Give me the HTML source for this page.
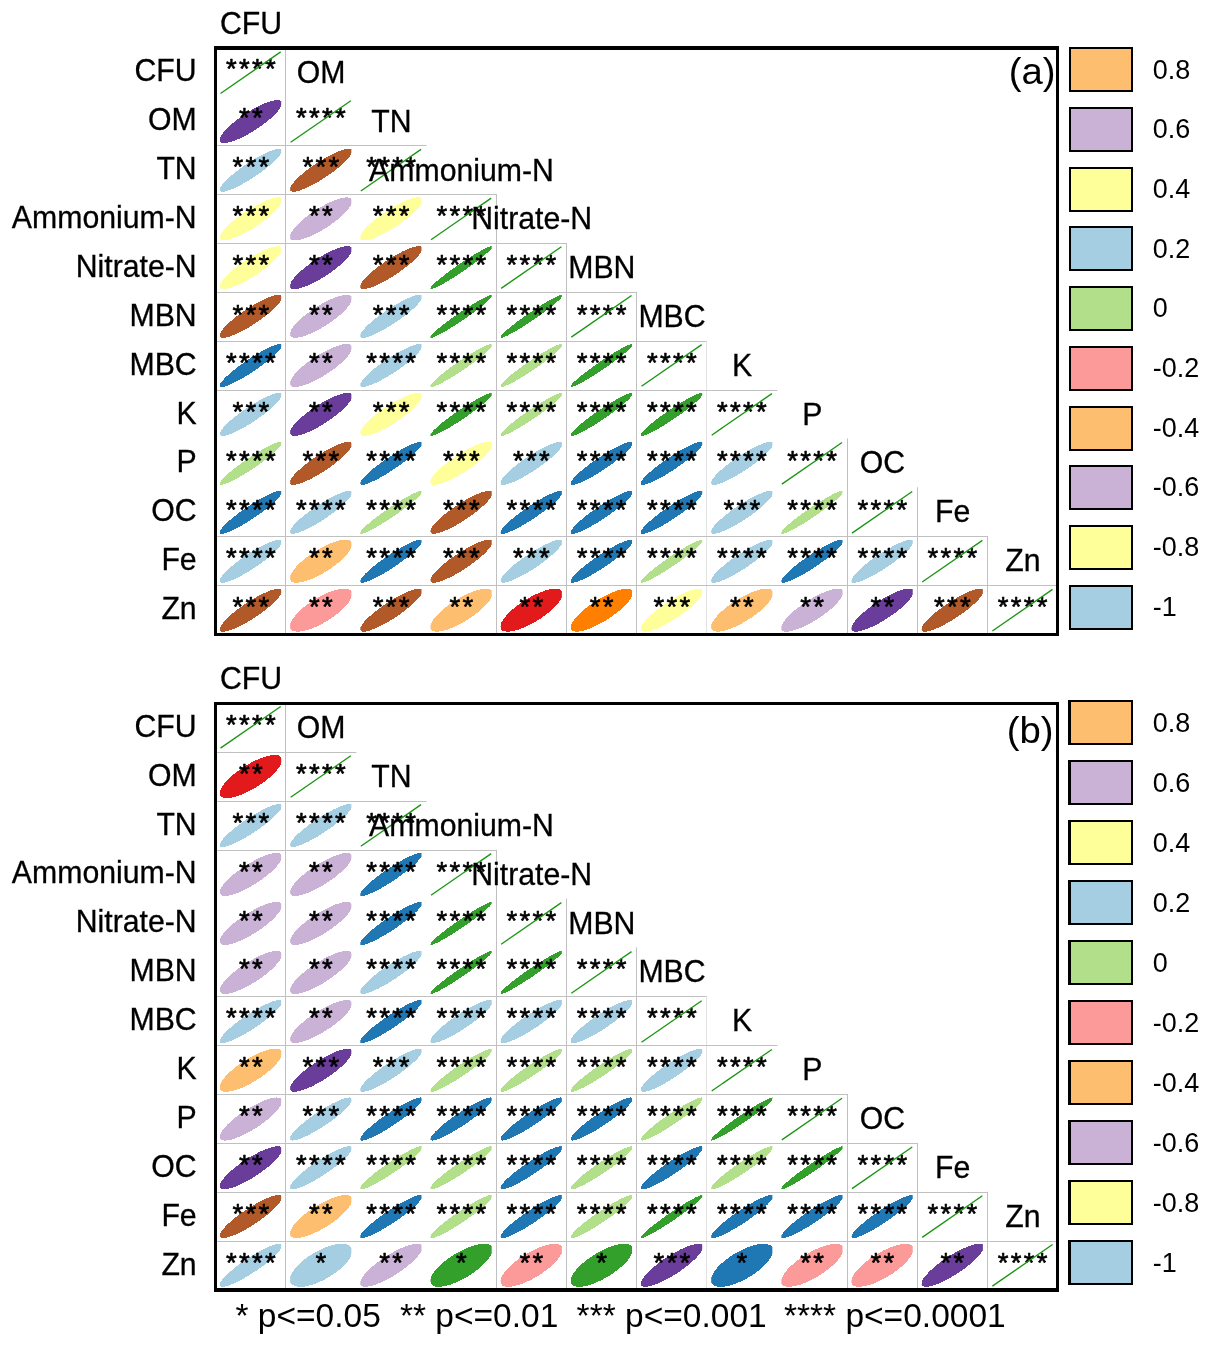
<!DOCTYPE html>
<html lang="en">
<head>
<meta charset="utf-8">
<title>Correlation ellipse plots</title>
<style>
html,body{margin:0;padding:0;background:#fff;}
body{width:1210px;height:1346px;overflow:hidden;}
svg{display:block;}
text{font-family:"Liberation Sans",Arial,Helvetica,sans-serif;fill:#000;}
text.s{font-size:27.5px;stroke:#000;stroke-width:0.6;stroke-linejoin:round;}
g.lab text{stroke:#000;stroke-width:0.3;}
</style>
</head>
<body>
<svg width="1210" height="1346" viewBox="0 0 1210 1346">
<rect width="1210" height="1346" fill="#fff"/>
<g>
<rect x="285" y="47.55" width="1" height="588.45" fill="#C0C0C0"/>
<rect x="216" y="145" width="210.51" height="1" fill="#C0C0C0"/>
<rect x="216" y="194" width="280.68" height="1" fill="#C0C0C0"/>
<rect x="496" y="194.12" width="1" height="441.88" fill="#C0C0C0"/>
<rect x="216" y="243" width="350.85" height="1" fill="#C0C0C0"/>
<rect x="566" y="242.98" width="1" height="393.02" fill="#C0C0C0"/>
<rect x="216" y="292" width="421.02" height="1" fill="#C0C0C0"/>
<rect x="636" y="291.83" width="1" height="344.17" fill="#C0C0C0"/>
<rect x="216" y="341" width="491.19" height="1" fill="#C0C0C0"/>
<rect x="706" y="340.69" width="1" height="295.31" fill="#E2E2E2"/>
<rect x="216" y="390" width="561.36" height="1" fill="#C0C0C0"/>
<rect x="847" y="438.41" width="1" height="197.59" fill="#C0C0C0"/>
<rect x="917" y="487.26" width="1" height="148.74" fill="#C0C0C0"/>
<rect x="216" y="536" width="771.87" height="1" fill="#C0C0C0"/>
<rect x="987" y="536.12" width="1" height="99.88" fill="#C0C0C0"/>
<rect x="216" y="585" width="842.04" height="1" fill="#C0C0C0"/>
<clipPath id="clip0">
<rect x="219.99" y="97.5" width="61.2" height="48"/>
<rect x="219.99" y="146.2" width="61.2" height="48"/>
<rect x="290.15" y="146.2" width="61.2" height="48"/>
<rect x="219.99" y="194.9" width="61.2" height="48"/>
<rect x="290.15" y="194.9" width="61.2" height="48"/>
<rect x="360.32" y="194.9" width="61.2" height="48"/>
<rect x="219.99" y="243.6" width="61.2" height="48"/>
<rect x="290.15" y="243.6" width="61.2" height="48"/>
<rect x="360.32" y="243.6" width="61.2" height="48"/>
<rect x="430.5" y="243.6" width="61.2" height="48"/>
<rect x="219.99" y="292.3" width="61.2" height="48"/>
<rect x="290.15" y="292.3" width="61.2" height="48"/>
<rect x="360.32" y="292.3" width="61.2" height="48"/>
<rect x="430.5" y="292.3" width="61.2" height="48"/>
<rect x="500.66" y="292.3" width="61.2" height="48"/>
<rect x="219.99" y="341.45" width="61.2" height="48"/>
<rect x="290.15" y="341.45" width="61.2" height="48"/>
<rect x="360.32" y="341.45" width="61.2" height="48"/>
<rect x="430.5" y="341.45" width="61.2" height="48"/>
<rect x="500.66" y="341.45" width="61.2" height="48"/>
<rect x="570.83" y="341.45" width="61.2" height="48"/>
<rect x="219.99" y="390.39" width="61.2" height="48"/>
<rect x="290.15" y="390.39" width="61.2" height="48"/>
<rect x="360.32" y="390.39" width="61.2" height="48"/>
<rect x="430.5" y="390.39" width="61.2" height="48"/>
<rect x="500.66" y="390.39" width="61.2" height="48"/>
<rect x="570.83" y="390.39" width="61.2" height="48"/>
<rect x="641" y="390.39" width="61.2" height="48"/>
<rect x="219.99" y="439.33" width="61.2" height="48"/>
<rect x="290.15" y="439.33" width="61.2" height="48"/>
<rect x="360.32" y="439.33" width="61.2" height="48"/>
<rect x="430.5" y="439.33" width="61.2" height="48"/>
<rect x="500.66" y="439.33" width="61.2" height="48"/>
<rect x="570.83" y="439.33" width="61.2" height="48"/>
<rect x="641" y="439.33" width="61.2" height="48"/>
<rect x="711.17" y="439.33" width="61.2" height="48"/>
<rect x="219.99" y="488.27" width="61.2" height="48"/>
<rect x="290.15" y="488.27" width="61.2" height="48"/>
<rect x="360.32" y="488.27" width="61.2" height="48"/>
<rect x="430.5" y="488.27" width="61.2" height="48"/>
<rect x="500.66" y="488.27" width="61.2" height="48"/>
<rect x="570.83" y="488.27" width="61.2" height="48"/>
<rect x="641" y="488.27" width="61.2" height="48"/>
<rect x="711.17" y="488.27" width="61.2" height="48"/>
<rect x="781.35" y="488.27" width="61.2" height="48"/>
<rect x="219.99" y="537.21" width="61.2" height="48"/>
<rect x="290.15" y="537.21" width="61.2" height="48"/>
<rect x="360.32" y="537.21" width="61.2" height="48"/>
<rect x="430.5" y="537.21" width="61.2" height="48"/>
<rect x="500.66" y="537.21" width="61.2" height="48"/>
<rect x="570.83" y="537.21" width="61.2" height="48"/>
<rect x="641" y="537.21" width="61.2" height="48"/>
<rect x="711.17" y="537.21" width="61.2" height="48"/>
<rect x="781.35" y="537.21" width="61.2" height="48"/>
<rect x="851.51" y="537.21" width="61.2" height="48"/>
<rect x="219.99" y="586.15" width="61.2" height="48"/>
<rect x="290.15" y="586.15" width="61.2" height="48"/>
<rect x="360.32" y="586.15" width="61.2" height="48"/>
<rect x="430.5" y="586.15" width="61.2" height="48"/>
<rect x="500.66" y="586.15" width="61.2" height="48"/>
<rect x="570.83" y="586.15" width="61.2" height="48"/>
<rect x="641" y="586.15" width="61.2" height="48"/>
<rect x="711.17" y="586.15" width="61.2" height="48"/>
<rect x="781.35" y="586.15" width="61.2" height="48"/>
<rect x="851.51" y="586.15" width="61.2" height="48"/>
<rect x="921.68" y="586.15" width="61.2" height="48"/>
</clipPath>
<g shape-rendering="crispEdges" clip-path="url(#clip0)">
<ellipse transform="translate(250.89 121.5) scale(31.2 21.55) rotate(-45)" rx="1.3620" ry="0.3808" fill="#6A3D9A"/>
<ellipse transform="translate(250.89 170.2) scale(31.2 21.55) rotate(-45)" rx="1.3820" ry="0.3000" fill="#A6CEE3"/>
<ellipse transform="translate(321.06 170.2) scale(31.2 21.55) rotate(-45)" rx="1.3748" ry="0.3317" fill="#B15928"/>
<ellipse transform="translate(250.89 218.9) scale(31.2 21.55) rotate(-45)" rx="1.3675" ry="0.3606" fill="#FFFF99"/>
<ellipse transform="translate(321.06 218.9) scale(31.2 21.55) rotate(-45)" rx="1.3528" ry="0.4123" fill="#CAB2D6"/>
<ellipse transform="translate(391.23 218.9) scale(31.2 21.55) rotate(-45)" rx="1.3675" ry="0.3606" fill="#FFFF99"/>
<ellipse transform="translate(250.89 267.6) scale(31.2 21.55) rotate(-45)" rx="1.3675" ry="0.3606" fill="#FFFF99"/>
<ellipse transform="translate(321.06 267.6) scale(31.2 21.55) rotate(-45)" rx="1.3620" ry="0.3808" fill="#6A3D9A"/>
<ellipse transform="translate(391.23 267.6) scale(31.2 21.55) rotate(-45)" rx="1.3748" ry="0.3317" fill="#B15928"/>
<ellipse transform="translate(461.4 267.6) scale(31.2 21.55) rotate(-45)" rx="1.4053" ry="0.1581" fill="#33A02C"/>
<ellipse transform="translate(250.89 316.3) scale(31.2 21.55) rotate(-45)" rx="1.3748" ry="0.3317" fill="#B15928"/>
<ellipse transform="translate(321.06 316.3) scale(31.2 21.55) rotate(-45)" rx="1.3528" ry="0.4123" fill="#CAB2D6"/>
<ellipse transform="translate(391.23 316.3) scale(31.2 21.55) rotate(-45)" rx="1.3820" ry="0.3000" fill="#A6CEE3"/>
<ellipse transform="translate(461.4 316.3) scale(31.2 21.55) rotate(-45)" rx="1.4053" ry="0.1581" fill="#33A02C"/>
<ellipse transform="translate(531.56 316.3) scale(31.2 21.55) rotate(-45)" rx="1.4053" ry="0.1581" fill="#33A02C"/>
<ellipse transform="translate(250.89 365.45) scale(31.2 21.55) rotate(-45)" rx="1.3910" ry="0.2550" fill="#1F78B4"/>
<ellipse transform="translate(321.06 365.45) scale(31.2 21.55) rotate(-45)" rx="1.3528" ry="0.4123" fill="#CAB2D6"/>
<ellipse transform="translate(391.23 365.45) scale(31.2 21.55) rotate(-45)" rx="1.3820" ry="0.3000" fill="#A6CEE3"/>
<ellipse transform="translate(461.4 365.45) scale(31.2 21.55) rotate(-45)" rx="1.4018" ry="0.1871" fill="#B2DF8A"/>
<ellipse transform="translate(531.56 365.45) scale(31.2 21.55) rotate(-45)" rx="1.4018" ry="0.1871" fill="#B2DF8A"/>
<ellipse transform="translate(601.73 365.45) scale(31.2 21.55) rotate(-45)" rx="1.4053" ry="0.1581" fill="#33A02C"/>
<ellipse transform="translate(250.89 414.39) scale(31.2 21.55) rotate(-45)" rx="1.3820" ry="0.3000" fill="#A6CEE3"/>
<ellipse transform="translate(321.06 414.39) scale(31.2 21.55) rotate(-45)" rx="1.3620" ry="0.3808" fill="#6A3D9A"/>
<ellipse transform="translate(391.23 414.39) scale(31.2 21.55) rotate(-45)" rx="1.3675" ry="0.3606" fill="#FFFF99"/>
<ellipse transform="translate(461.4 414.39) scale(31.2 21.55) rotate(-45)" rx="1.4018" ry="0.1871" fill="#33A02C"/>
<ellipse transform="translate(531.56 414.39) scale(31.2 21.55) rotate(-45)" rx="1.4018" ry="0.1871" fill="#B2DF8A"/>
<ellipse transform="translate(601.73 414.39) scale(31.2 21.55) rotate(-45)" rx="1.4007" ry="0.1949" fill="#33A02C"/>
<ellipse transform="translate(671.9 414.39) scale(31.2 21.55) rotate(-45)" rx="1.4007" ry="0.1949" fill="#33A02C"/>
<ellipse transform="translate(250.89 463.33) scale(31.2 21.55) rotate(-45)" rx="1.3964" ry="0.2236" fill="#B2DF8A"/>
<ellipse transform="translate(321.06 463.33) scale(31.2 21.55) rotate(-45)" rx="1.3748" ry="0.3317" fill="#B15928"/>
<ellipse transform="translate(391.23 463.33) scale(31.2 21.55) rotate(-45)" rx="1.3910" ry="0.2550" fill="#1F78B4"/>
<ellipse transform="translate(461.4 463.33) scale(31.2 21.55) rotate(-45)" rx="1.3675" ry="0.3606" fill="#FFFF99"/>
<ellipse transform="translate(531.56 463.33) scale(31.2 21.55) rotate(-45)" rx="1.3820" ry="0.3000" fill="#A6CEE3"/>
<ellipse transform="translate(601.73 463.33) scale(31.2 21.55) rotate(-45)" rx="1.3910" ry="0.2550" fill="#1F78B4"/>
<ellipse transform="translate(671.9 463.33) scale(31.2 21.55) rotate(-45)" rx="1.3910" ry="0.2550" fill="#1F78B4"/>
<ellipse transform="translate(742.07 463.33) scale(31.2 21.55) rotate(-45)" rx="1.3820" ry="0.3000" fill="#A6CEE3"/>
<ellipse transform="translate(250.89 512.27) scale(31.2 21.55) rotate(-45)" rx="1.3910" ry="0.2550" fill="#1F78B4"/>
<ellipse transform="translate(321.06 512.27) scale(31.2 21.55) rotate(-45)" rx="1.3820" ry="0.3000" fill="#A6CEE3"/>
<ellipse transform="translate(391.23 512.27) scale(31.2 21.55) rotate(-45)" rx="1.4018" ry="0.1871" fill="#B2DF8A"/>
<ellipse transform="translate(461.4 512.27) scale(31.2 21.55) rotate(-45)" rx="1.3748" ry="0.3317" fill="#B15928"/>
<ellipse transform="translate(531.56 512.27) scale(31.2 21.55) rotate(-45)" rx="1.3910" ry="0.2550" fill="#1F78B4"/>
<ellipse transform="translate(601.73 512.27) scale(31.2 21.55) rotate(-45)" rx="1.3910" ry="0.2550" fill="#1F78B4"/>
<ellipse transform="translate(671.9 512.27) scale(31.2 21.55) rotate(-45)" rx="1.3910" ry="0.2550" fill="#1F78B4"/>
<ellipse transform="translate(742.07 512.27) scale(31.2 21.55) rotate(-45)" rx="1.3820" ry="0.3000" fill="#A6CEE3"/>
<ellipse transform="translate(812.25 512.27) scale(31.2 21.55) rotate(-45)" rx="1.4018" ry="0.1871" fill="#B2DF8A"/>
<ellipse transform="translate(250.89 561.21) scale(31.2 21.55) rotate(-45)" rx="1.3820" ry="0.3000" fill="#A6CEE3"/>
<ellipse transform="translate(321.06 561.21) scale(31.2 21.55) rotate(-45)" rx="1.3379" ry="0.4583" fill="#FDBF6F"/>
<ellipse transform="translate(391.23 561.21) scale(31.2 21.55) rotate(-45)" rx="1.3910" ry="0.2550" fill="#1F78B4"/>
<ellipse transform="translate(461.4 561.21) scale(31.2 21.55) rotate(-45)" rx="1.3748" ry="0.3317" fill="#B15928"/>
<ellipse transform="translate(531.56 561.21) scale(31.2 21.55) rotate(-45)" rx="1.3820" ry="0.3000" fill="#A6CEE3"/>
<ellipse transform="translate(601.73 561.21) scale(31.2 21.55) rotate(-45)" rx="1.3910" ry="0.2550" fill="#1F78B4"/>
<ellipse transform="translate(671.9 561.21) scale(31.2 21.55) rotate(-45)" rx="1.4018" ry="0.1871" fill="#B2DF8A"/>
<ellipse transform="translate(742.07 561.21) scale(31.2 21.55) rotate(-45)" rx="1.3820" ry="0.3000" fill="#A6CEE3"/>
<ellipse transform="translate(812.25 561.21) scale(31.2 21.55) rotate(-45)" rx="1.3910" ry="0.2550" fill="#1F78B4"/>
<ellipse transform="translate(882.41 561.21) scale(31.2 21.55) rotate(-45)" rx="1.3820" ry="0.3000" fill="#A6CEE3"/>
<ellipse transform="translate(250.89 610.15) scale(31.2 21.55) rotate(-45)" rx="1.3748" ry="0.3317" fill="#B15928"/>
<ellipse transform="translate(321.06 610.15) scale(31.2 21.55) rotate(-45)" rx="1.3229" ry="0.5000" fill="#FB9A99"/>
<ellipse transform="translate(391.23 610.15) scale(31.2 21.55) rotate(-45)" rx="1.3748" ry="0.3317" fill="#B15928"/>
<ellipse transform="translate(461.4 610.15) scale(31.2 21.55) rotate(-45)" rx="1.3379" ry="0.4583" fill="#FDBF6F"/>
<ellipse transform="translate(531.56 610.15) scale(31.2 21.55) rotate(-45)" rx="1.3304" ry="0.4796" fill="#E31A1C"/>
<ellipse transform="translate(601.73 610.15) scale(31.2 21.55) rotate(-45)" rx="1.3454" ry="0.4359" fill="#FF7F00"/>
<ellipse transform="translate(671.9 610.15) scale(31.2 21.55) rotate(-45)" rx="1.3675" ry="0.3606" fill="#FFFF99"/>
<ellipse transform="translate(742.07 610.15) scale(31.2 21.55) rotate(-45)" rx="1.3379" ry="0.4583" fill="#FDBF6F"/>
<ellipse transform="translate(812.25 610.15) scale(31.2 21.55) rotate(-45)" rx="1.3528" ry="0.4123" fill="#CAB2D6"/>
<ellipse transform="translate(882.41 610.15) scale(31.2 21.55) rotate(-45)" rx="1.3620" ry="0.3808" fill="#6A3D9A"/>
<ellipse transform="translate(952.58 610.15) scale(31.2 21.55) rotate(-45)" rx="1.3748" ry="0.3317" fill="#B15928"/>
</g>
<text class="s" x="225.88 238.88 251.88 264.88" y="78.19">****</text>
<text class="s" x="238.88 251.88" y="127.25">**</text>
<text class="s" x="296.05 309.05 322.05 335.05" y="127.25">****</text>
<text class="s" x="232.38 245.38 258.38" y="176.31">***</text>
<text class="s" x="302.55 315.55 328.55" y="176.31">***</text>
<text class="s" x="366.22 379.22 392.22 405.22" y="176.31">****</text>
<text class="s" x="232.38 245.38 258.38" y="225.38">***</text>
<text class="s" x="309.05 322.05" y="225.38">**</text>
<text class="s" x="372.72 385.72 398.72" y="225.38">***</text>
<text class="s" x="436.39 449.39 462.39 475.39" y="225.38">****</text>
<text class="s" x="232.38 245.38 258.38" y="274.44">***</text>
<text class="s" x="309.05 322.05" y="274.44">**</text>
<text class="s" x="372.72 385.72 398.72" y="274.44">***</text>
<text class="s" x="436.39 449.39 462.39 475.39" y="274.44">****</text>
<text class="s" x="506.56 519.56 532.56 545.56" y="274.44">****</text>
<text class="s" x="232.38 245.38 258.38" y="323.5">***</text>
<text class="s" x="309.05 322.05" y="323.5">**</text>
<text class="s" x="372.72 385.72 398.72" y="323.5">***</text>
<text class="s" x="436.39 449.39 462.39 475.39" y="323.5">****</text>
<text class="s" x="506.56 519.56 532.56 545.56" y="323.5">****</text>
<text class="s" x="576.73 589.73 602.73 615.73" y="323.5">****</text>
<text class="s" x="225.88 238.88 251.88 264.88" y="372.3">****</text>
<text class="s" x="309.05 322.05" y="372.3">**</text>
<text class="s" x="366.22 379.22 392.22 405.22" y="372.3">****</text>
<text class="s" x="436.39 449.39 462.39 475.39" y="372.3">****</text>
<text class="s" x="506.56 519.56 532.56 545.56" y="372.3">****</text>
<text class="s" x="576.73 589.73 602.73 615.73" y="372.3">****</text>
<text class="s" x="646.9 659.9 672.9 685.9" y="372.3">****</text>
<text class="s" x="232.38 245.38 258.38" y="421.08">***</text>
<text class="s" x="309.05 322.05" y="421.08">**</text>
<text class="s" x="372.72 385.72 398.72" y="421.08">***</text>
<text class="s" x="436.39 449.39 462.39 475.39" y="421.08">****</text>
<text class="s" x="506.56 519.56 532.56 545.56" y="421.08">****</text>
<text class="s" x="576.73 589.73 602.73 615.73" y="421.08">****</text>
<text class="s" x="646.9 659.9 672.9 685.9" y="421.08">****</text>
<text class="s" x="717.07 730.07 743.07 756.07" y="421.08">****</text>
<text class="s" x="225.88 238.88 251.88 264.88" y="469.86">****</text>
<text class="s" x="302.55 315.55 328.55" y="469.86">***</text>
<text class="s" x="366.22 379.22 392.22 405.22" y="469.86">****</text>
<text class="s" x="442.89 455.89 468.89" y="469.86">***</text>
<text class="s" x="513.06 526.06 539.06" y="469.86">***</text>
<text class="s" x="576.73 589.73 602.73 615.73" y="469.86">****</text>
<text class="s" x="646.9 659.9 672.9 685.9" y="469.86">****</text>
<text class="s" x="717.07 730.07 743.07 756.07" y="469.86">****</text>
<text class="s" x="787.24 800.24 813.24 826.24" y="469.86">****</text>
<text class="s" x="225.88 238.88 251.88 264.88" y="518.64">****</text>
<text class="s" x="296.05 309.05 322.05 335.05" y="518.64">****</text>
<text class="s" x="366.22 379.22 392.22 405.22" y="518.64">****</text>
<text class="s" x="442.89 455.89 468.89" y="518.64">***</text>
<text class="s" x="506.56 519.56 532.56 545.56" y="518.64">****</text>
<text class="s" x="576.73 589.73 602.73 615.73" y="518.64">****</text>
<text class="s" x="646.9 659.9 672.9 685.9" y="518.64">****</text>
<text class="s" x="723.57 736.57 749.57" y="518.64">***</text>
<text class="s" x="787.24 800.24 813.24 826.24" y="518.64">****</text>
<text class="s" x="857.41 870.41 883.41 896.41" y="518.64">****</text>
<text class="s" x="225.88 238.88 251.88 264.88" y="567.42">****</text>
<text class="s" x="309.05 322.05" y="567.42">**</text>
<text class="s" x="366.22 379.22 392.22 405.22" y="567.42">****</text>
<text class="s" x="442.89 455.89 468.89" y="567.42">***</text>
<text class="s" x="513.06 526.06 539.06" y="567.42">***</text>
<text class="s" x="576.73 589.73 602.73 615.73" y="567.42">****</text>
<text class="s" x="646.9 659.9 672.9 685.9" y="567.42">****</text>
<text class="s" x="717.07 730.07 743.07 756.07" y="567.42">****</text>
<text class="s" x="787.24 800.24 813.24 826.24" y="567.42">****</text>
<text class="s" x="857.41 870.41 883.41 896.41" y="567.42">****</text>
<text class="s" x="927.58 940.58 953.58 966.58" y="567.42">****</text>
<text class="s" x="232.38 245.38 258.38" y="616.2">***</text>
<text class="s" x="309.05 322.05" y="616.2">**</text>
<text class="s" x="372.72 385.72 398.72" y="616.2">***</text>
<text class="s" x="449.39 462.39" y="616.2">**</text>
<text class="s" x="519.56 532.56" y="616.2">**</text>
<text class="s" x="589.73 602.73" y="616.2">**</text>
<text class="s" x="653.4 666.4 679.4" y="616.2">***</text>
<text class="s" x="730.07 743.07" y="616.2">**</text>
<text class="s" x="800.24 813.24" y="616.2">**</text>
<text class="s" x="870.41 883.41" y="616.2">**</text>
<text class="s" x="934.08 947.08 960.08" y="616.2">***</text>
<text class="s" x="997.75 1010.75 1023.75 1036.75" y="616.2">****</text>
<line x1="220.49" y1="93.45" x2="280.69" y2="51.85" stroke="#1A9612" stroke-width="1.35"/>
<line x1="290.65" y1="142.3" x2="350.86" y2="100.7" stroke="#1A9612" stroke-width="1.35"/>
<line x1="360.82" y1="191" x2="421.03" y2="149.4" stroke="#1A9612" stroke-width="1.35"/>
<line x1="431" y1="239.7" x2="491.2" y2="198.1" stroke="#1A9612" stroke-width="1.35"/>
<line x1="501.16" y1="288.4" x2="561.37" y2="246.8" stroke="#1A9612" stroke-width="1.35"/>
<line x1="571.33" y1="337.1" x2="631.53" y2="295.5" stroke="#1A9612" stroke-width="1.35"/>
<line x1="641.5" y1="386.25" x2="701.71" y2="344.65" stroke="#1A9612" stroke-width="1.35"/>
<line x1="711.67" y1="435.19" x2="771.88" y2="393.59" stroke="#1A9612" stroke-width="1.35"/>
<line x1="781.85" y1="484.13" x2="842.05" y2="442.53" stroke="#1A9612" stroke-width="1.35"/>
<line x1="852.01" y1="533.07" x2="912.22" y2="491.47" stroke="#1A9612" stroke-width="1.35"/>
<line x1="922.18" y1="582.01" x2="982.38" y2="540.41" stroke="#1A9612" stroke-width="1.35"/>
<line x1="992.36" y1="630.95" x2="1052.56" y2="589.35" stroke="#1A9612" stroke-width="1.35"/>
<g class="lab">
<text transform="translate(196.7 81.1) scale(0.97 1)" font-size="31.2" text-anchor="end">CFU</text>
<text transform="translate(250.99 34.36) scale(0.97 1)" font-size="31.2" text-anchor="middle">CFU</text>
<text transform="translate(196.7 130) scale(0.97 1)" font-size="31.2" text-anchor="end">OM</text>
<text transform="translate(321.15 83.13) scale(0.97 1)" font-size="31.2" text-anchor="middle">OM</text>
<text transform="translate(196.7 178.9) scale(0.97 1)" font-size="31.2" text-anchor="end">TN</text>
<text transform="translate(391.32 131.9) scale(0.97 1)" font-size="31.2" text-anchor="middle">TN</text>
<text transform="translate(196.7 227.93) scale(0.97 1)" font-size="31.2" text-anchor="end">Ammonium-N</text>
<text transform="translate(461.5 180.68) scale(0.97 1)" font-size="31.2" text-anchor="middle">Ammonium-N</text>
<text transform="translate(196.7 276.97) scale(0.97 1)" font-size="31.2" text-anchor="end">Nitrate-N</text>
<text transform="translate(531.66 229.45) scale(0.97 1)" font-size="31.2" text-anchor="middle">Nitrate-N</text>
<text transform="translate(196.7 326) scale(0.97 1)" font-size="31.2" text-anchor="end">MBN</text>
<text transform="translate(601.83 278.22) scale(0.97 1)" font-size="31.2" text-anchor="middle">MBN</text>
<text transform="translate(196.7 374.82) scale(0.97 1)" font-size="31.2" text-anchor="end">MBC</text>
<text transform="translate(672 326.99) scale(0.97 1)" font-size="31.2" text-anchor="middle">MBC</text>
<text transform="translate(196.7 423.63) scale(0.97 1)" font-size="31.2" text-anchor="end">K</text>
<text transform="translate(742.17 375.76) scale(0.97 1)" font-size="31.2" text-anchor="middle">K</text>
<text transform="translate(196.7 472.45) scale(0.97 1)" font-size="31.2" text-anchor="end">P</text>
<text transform="translate(812.35 424.53) scale(0.97 1)" font-size="31.2" text-anchor="middle">P</text>
<text transform="translate(196.7 521.27) scale(0.97 1)" font-size="31.2" text-anchor="end">OC</text>
<text transform="translate(882.51 473.31) scale(0.97 1)" font-size="31.2" text-anchor="middle">OC</text>
<text transform="translate(196.7 570.08) scale(0.97 1)" font-size="31.2" text-anchor="end">Fe</text>
<text transform="translate(952.68 522.08) scale(0.97 1)" font-size="31.2" text-anchor="middle">Fe</text>
<text transform="translate(196.7 618.9) scale(0.97 1)" font-size="31.2" text-anchor="end">Zn</text>
<text transform="translate(1022.86 570.85) scale(0.97 1)" font-size="31.2" text-anchor="middle">Zn</text>
</g>
<path fill="#000" fill-rule="evenodd" d="M214 46 H1059 V636 H214 Z M217 50 V633 H1056 V50 Z"/>
<text transform="translate(1055.5 84.35) scale(1.05 1)" font-size="36.5" text-anchor="end">(a)</text>
</g>
<g>
<rect x="1069" y="47" width="64" height="45" fill="#000"/>
<rect x="1071" y="49" width="60" height="41" fill="#FDBF6F"/>
<text transform="translate(1152.85 78.7) scale(0.95 1)" font-size="28.4">0.8</text>
<rect x="1069" y="107" width="64" height="45" fill="#000"/>
<rect x="1071" y="109" width="60" height="41" fill="#CAB2D6"/>
<text transform="translate(1152.85 138.36) scale(0.95 1)" font-size="28.4">0.6</text>
<rect x="1069" y="167" width="64" height="45" fill="#000"/>
<rect x="1071" y="169" width="60" height="41" fill="#FFFF99"/>
<text transform="translate(1152.85 198.02) scale(0.95 1)" font-size="28.4">0.4</text>
<rect x="1069" y="226" width="64" height="45" fill="#000"/>
<rect x="1071" y="228" width="60" height="41" fill="#A6CEE3"/>
<text transform="translate(1152.85 257.68) scale(0.95 1)" font-size="28.4">0.2</text>
<rect x="1069" y="286" width="64" height="45" fill="#000"/>
<rect x="1071" y="288" width="60" height="41" fill="#B2DF8A"/>
<text transform="translate(1152.85 317.34) scale(0.95 1)" font-size="28.4">0</text>
<rect x="1069" y="346" width="64" height="45" fill="#000"/>
<rect x="1071" y="348" width="60" height="41" fill="#FB9A99"/>
<text transform="translate(1152.85 377) scale(0.95 1)" font-size="28.4">-0.2</text>
<rect x="1069" y="406" width="64" height="45" fill="#000"/>
<rect x="1071" y="408" width="60" height="41" fill="#FDBF6F"/>
<text transform="translate(1152.85 436.66) scale(0.95 1)" font-size="28.4">-0.4</text>
<rect x="1069" y="465" width="64" height="45" fill="#000"/>
<rect x="1071" y="467" width="60" height="41" fill="#CAB2D6"/>
<text transform="translate(1152.85 496.32) scale(0.95 1)" font-size="28.4">-0.6</text>
<rect x="1069" y="525" width="64" height="45" fill="#000"/>
<rect x="1071" y="527" width="60" height="41" fill="#FFFF99"/>
<text transform="translate(1152.85 555.98) scale(0.95 1)" font-size="28.4">-0.8</text>
<rect x="1069" y="585" width="64" height="45" fill="#000"/>
<rect x="1071" y="587" width="60" height="41" fill="#A6CEE3"/>
<text transform="translate(1152.85 615.64) scale(0.95 1)" font-size="28.4">-1</text>
</g>
<g>
<rect x="285" y="703.15" width="1" height="588.85" fill="#C0C0C0"/>
<rect x="216" y="752" width="140.34" height="1" fill="#C0C0C0"/>
<rect x="216" y="801" width="210.51" height="1" fill="#C0C0C0"/>
<rect x="216" y="850" width="280.68" height="1" fill="#C0C0C0"/>
<rect x="496" y="849.72" width="1" height="442.28" fill="#C0C0C0"/>
<rect x="566" y="898.58" width="1" height="393.42" fill="#C0C0C0"/>
<rect x="636" y="947.43" width="1" height="344.57" fill="#C0C0C0"/>
<rect x="216" y="996" width="491.19" height="1" fill="#C0C0C0"/>
<rect x="706" y="996.29" width="1" height="295.71" fill="#E2E2E2"/>
<rect x="216" y="1045" width="561.36" height="1" fill="#C0C0C0"/>
<rect x="216" y="1094" width="631.53" height="1" fill="#C0C0C0"/>
<rect x="847" y="1094.01" width="1" height="197.99" fill="#C0C0C0"/>
<rect x="216" y="1143" width="701.7" height="1" fill="#C0C0C0"/>
<rect x="917" y="1142.86" width="1" height="149.14" fill="#C0C0C0"/>
<rect x="216" y="1192" width="771.87" height="1" fill="#C0C0C0"/>
<rect x="987" y="1191.72" width="1" height="100.28" fill="#C0C0C0"/>
<rect x="216" y="1241" width="842.04" height="1" fill="#C0C0C0"/>
<clipPath id="clip1">
<rect x="219.99" y="752.5" width="61.2" height="48"/>
<rect x="219.99" y="801.48" width="61.2" height="48"/>
<rect x="290.15" y="801.48" width="61.2" height="48"/>
<rect x="219.99" y="850.45" width="61.2" height="48"/>
<rect x="290.15" y="850.45" width="61.2" height="48"/>
<rect x="360.32" y="850.45" width="61.2" height="48"/>
<rect x="219.99" y="899.42" width="61.2" height="48"/>
<rect x="290.15" y="899.42" width="61.2" height="48"/>
<rect x="360.32" y="899.42" width="61.2" height="48"/>
<rect x="430.5" y="899.42" width="61.2" height="48"/>
<rect x="219.99" y="948.4" width="61.2" height="48"/>
<rect x="290.15" y="948.4" width="61.2" height="48"/>
<rect x="360.32" y="948.4" width="61.2" height="48"/>
<rect x="430.5" y="948.4" width="61.2" height="48"/>
<rect x="500.66" y="948.4" width="61.2" height="48"/>
<rect x="219.99" y="997.5" width="61.2" height="48"/>
<rect x="290.15" y="997.5" width="61.2" height="48"/>
<rect x="360.32" y="997.5" width="61.2" height="48"/>
<rect x="430.5" y="997.5" width="61.2" height="48"/>
<rect x="500.66" y="997.5" width="61.2" height="48"/>
<rect x="570.83" y="997.5" width="61.2" height="48"/>
<rect x="219.99" y="1046.26" width="61.2" height="48"/>
<rect x="290.15" y="1046.26" width="61.2" height="48"/>
<rect x="360.32" y="1046.26" width="61.2" height="48"/>
<rect x="430.5" y="1046.26" width="61.2" height="48"/>
<rect x="500.66" y="1046.26" width="61.2" height="48"/>
<rect x="570.83" y="1046.26" width="61.2" height="48"/>
<rect x="641" y="1046.26" width="61.2" height="48"/>
<rect x="219.99" y="1095.02" width="61.2" height="48"/>
<rect x="290.15" y="1095.02" width="61.2" height="48"/>
<rect x="360.32" y="1095.02" width="61.2" height="48"/>
<rect x="430.5" y="1095.02" width="61.2" height="48"/>
<rect x="500.66" y="1095.02" width="61.2" height="48"/>
<rect x="570.83" y="1095.02" width="61.2" height="48"/>
<rect x="641" y="1095.02" width="61.2" height="48"/>
<rect x="711.17" y="1095.02" width="61.2" height="48"/>
<rect x="219.99" y="1143.78" width="61.2" height="48"/>
<rect x="290.15" y="1143.78" width="61.2" height="48"/>
<rect x="360.32" y="1143.78" width="61.2" height="48"/>
<rect x="430.5" y="1143.78" width="61.2" height="48"/>
<rect x="500.66" y="1143.78" width="61.2" height="48"/>
<rect x="570.83" y="1143.78" width="61.2" height="48"/>
<rect x="641" y="1143.78" width="61.2" height="48"/>
<rect x="711.17" y="1143.78" width="61.2" height="48"/>
<rect x="781.35" y="1143.78" width="61.2" height="48"/>
<rect x="219.99" y="1192.54" width="61.2" height="48"/>
<rect x="290.15" y="1192.54" width="61.2" height="48"/>
<rect x="360.32" y="1192.54" width="61.2" height="48"/>
<rect x="430.5" y="1192.54" width="61.2" height="48"/>
<rect x="500.66" y="1192.54" width="61.2" height="48"/>
<rect x="570.83" y="1192.54" width="61.2" height="48"/>
<rect x="641" y="1192.54" width="61.2" height="48"/>
<rect x="711.17" y="1192.54" width="61.2" height="48"/>
<rect x="781.35" y="1192.54" width="61.2" height="48"/>
<rect x="851.51" y="1192.54" width="61.2" height="48"/>
<rect x="219.99" y="1241.3" width="61.2" height="48"/>
<rect x="290.15" y="1241.3" width="61.2" height="48"/>
<rect x="360.32" y="1241.3" width="61.2" height="48"/>
<rect x="430.5" y="1241.3" width="61.2" height="48"/>
<rect x="500.66" y="1241.3" width="61.2" height="48"/>
<rect x="570.83" y="1241.3" width="61.2" height="48"/>
<rect x="641" y="1241.3" width="61.2" height="48"/>
<rect x="711.17" y="1241.3" width="61.2" height="48"/>
<rect x="781.35" y="1241.3" width="61.2" height="48"/>
<rect x="851.51" y="1241.3" width="61.2" height="48"/>
<rect x="921.68" y="1241.3" width="61.2" height="48"/>
</clipPath>
<g shape-rendering="crispEdges" clip-path="url(#clip1)">
<ellipse transform="translate(250.89 776.5) scale(31.2 21.55) rotate(-45)" rx="1.3304" ry="0.4796" fill="#E31A1C"/>
<ellipse transform="translate(250.89 825.48) scale(31.2 21.55) rotate(-45)" rx="1.3820" ry="0.3000" fill="#A6CEE3"/>
<ellipse transform="translate(321.06 825.48) scale(31.2 21.55) rotate(-45)" rx="1.3820" ry="0.3000" fill="#A6CEE3"/>
<ellipse transform="translate(250.89 874.45) scale(31.2 21.55) rotate(-45)" rx="1.3528" ry="0.4123" fill="#CAB2D6"/>
<ellipse transform="translate(321.06 874.45) scale(31.2 21.55) rotate(-45)" rx="1.3528" ry="0.4123" fill="#CAB2D6"/>
<ellipse transform="translate(391.23 874.45) scale(31.2 21.55) rotate(-45)" rx="1.3910" ry="0.2550" fill="#1F78B4"/>
<ellipse transform="translate(250.89 923.42) scale(31.2 21.55) rotate(-45)" rx="1.3528" ry="0.4123" fill="#CAB2D6"/>
<ellipse transform="translate(321.06 923.42) scale(31.2 21.55) rotate(-45)" rx="1.3528" ry="0.4123" fill="#CAB2D6"/>
<ellipse transform="translate(391.23 923.42) scale(31.2 21.55) rotate(-45)" rx="1.3910" ry="0.2550" fill="#1F78B4"/>
<ellipse transform="translate(461.4 923.42) scale(31.2 21.55) rotate(-45)" rx="1.4053" ry="0.1581" fill="#33A02C"/>
<ellipse transform="translate(250.89 972.4) scale(31.2 21.55) rotate(-45)" rx="1.3528" ry="0.4123" fill="#CAB2D6"/>
<ellipse transform="translate(321.06 972.4) scale(31.2 21.55) rotate(-45)" rx="1.3528" ry="0.4123" fill="#CAB2D6"/>
<ellipse transform="translate(391.23 972.4) scale(31.2 21.55) rotate(-45)" rx="1.3820" ry="0.3000" fill="#A6CEE3"/>
<ellipse transform="translate(461.4 972.4) scale(31.2 21.55) rotate(-45)" rx="1.4053" ry="0.1581" fill="#33A02C"/>
<ellipse transform="translate(531.56 972.4) scale(31.2 21.55) rotate(-45)" rx="1.4053" ry="0.1581" fill="#33A02C"/>
<ellipse transform="translate(250.89 1021.5) scale(31.2 21.55) rotate(-45)" rx="1.3820" ry="0.3000" fill="#A6CEE3"/>
<ellipse transform="translate(321.06 1021.5) scale(31.2 21.55) rotate(-45)" rx="1.3528" ry="0.4123" fill="#CAB2D6"/>
<ellipse transform="translate(391.23 1021.5) scale(31.2 21.55) rotate(-45)" rx="1.3910" ry="0.2550" fill="#1F78B4"/>
<ellipse transform="translate(461.4 1021.5) scale(31.2 21.55) rotate(-45)" rx="1.3820" ry="0.3000" fill="#A6CEE3"/>
<ellipse transform="translate(531.56 1021.5) scale(31.2 21.55) rotate(-45)" rx="1.3820" ry="0.3000" fill="#A6CEE3"/>
<ellipse transform="translate(601.73 1021.5) scale(31.2 21.55) rotate(-45)" rx="1.3820" ry="0.3000" fill="#A6CEE3"/>
<ellipse transform="translate(250.89 1070.26) scale(31.2 21.55) rotate(-45)" rx="1.3379" ry="0.4583" fill="#FDBF6F"/>
<ellipse transform="translate(321.06 1070.26) scale(31.2 21.55) rotate(-45)" rx="1.3620" ry="0.3808" fill="#6A3D9A"/>
<ellipse transform="translate(391.23 1070.26) scale(31.2 21.55) rotate(-45)" rx="1.3820" ry="0.3000" fill="#A6CEE3"/>
<ellipse transform="translate(461.4 1070.26) scale(31.2 21.55) rotate(-45)" rx="1.3975" ry="0.2168" fill="#B2DF8A"/>
<ellipse transform="translate(531.56 1070.26) scale(31.2 21.55) rotate(-45)" rx="1.3975" ry="0.2168" fill="#B2DF8A"/>
<ellipse transform="translate(601.73 1070.26) scale(31.2 21.55) rotate(-45)" rx="1.3975" ry="0.2168" fill="#B2DF8A"/>
<ellipse transform="translate(671.9 1070.26) scale(31.2 21.55) rotate(-45)" rx="1.3820" ry="0.3000" fill="#A6CEE3"/>
<ellipse transform="translate(250.89 1119.02) scale(31.2 21.55) rotate(-45)" rx="1.3528" ry="0.4123" fill="#CAB2D6"/>
<ellipse transform="translate(321.06 1119.02) scale(31.2 21.55) rotate(-45)" rx="1.3820" ry="0.3000" fill="#A6CEE3"/>
<ellipse transform="translate(391.23 1119.02) scale(31.2 21.55) rotate(-45)" rx="1.3910" ry="0.2550" fill="#1F78B4"/>
<ellipse transform="translate(461.4 1119.02) scale(31.2 21.55) rotate(-45)" rx="1.3910" ry="0.2550" fill="#1F78B4"/>
<ellipse transform="translate(531.56 1119.02) scale(31.2 21.55) rotate(-45)" rx="1.3910" ry="0.2550" fill="#1F78B4"/>
<ellipse transform="translate(601.73 1119.02) scale(31.2 21.55) rotate(-45)" rx="1.3910" ry="0.2550" fill="#1F78B4"/>
<ellipse transform="translate(671.9 1119.02) scale(31.2 21.55) rotate(-45)" rx="1.3975" ry="0.2168" fill="#B2DF8A"/>
<ellipse transform="translate(742.07 1119.02) scale(31.2 21.55) rotate(-45)" rx="1.4053" ry="0.1581" fill="#33A02C"/>
<ellipse transform="translate(250.89 1167.78) scale(31.2 21.55) rotate(-45)" rx="1.3620" ry="0.3808" fill="#6A3D9A"/>
<ellipse transform="translate(321.06 1167.78) scale(31.2 21.55) rotate(-45)" rx="1.3820" ry="0.3000" fill="#A6CEE3"/>
<ellipse transform="translate(391.23 1167.78) scale(31.2 21.55) rotate(-45)" rx="1.3975" ry="0.2168" fill="#B2DF8A"/>
<ellipse transform="translate(461.4 1167.78) scale(31.2 21.55) rotate(-45)" rx="1.3975" ry="0.2168" fill="#B2DF8A"/>
<ellipse transform="translate(531.56 1167.78) scale(31.2 21.55) rotate(-45)" rx="1.3910" ry="0.2550" fill="#1F78B4"/>
<ellipse transform="translate(601.73 1167.78) scale(31.2 21.55) rotate(-45)" rx="1.3975" ry="0.2168" fill="#B2DF8A"/>
<ellipse transform="translate(671.9 1167.78) scale(31.2 21.55) rotate(-45)" rx="1.3910" ry="0.2550" fill="#1F78B4"/>
<ellipse transform="translate(742.07 1167.78) scale(31.2 21.55) rotate(-45)" rx="1.3975" ry="0.2168" fill="#B2DF8A"/>
<ellipse transform="translate(812.25 1167.78) scale(31.2 21.55) rotate(-45)" rx="1.4053" ry="0.1581" fill="#33A02C"/>
<ellipse transform="translate(250.89 1216.54) scale(31.2 21.55) rotate(-45)" rx="1.3748" ry="0.3317" fill="#B15928"/>
<ellipse transform="translate(321.06 1216.54) scale(31.2 21.55) rotate(-45)" rx="1.3379" ry="0.4583" fill="#FDBF6F"/>
<ellipse transform="translate(391.23 1216.54) scale(31.2 21.55) rotate(-45)" rx="1.3910" ry="0.2550" fill="#1F78B4"/>
<ellipse transform="translate(461.4 1216.54) scale(31.2 21.55) rotate(-45)" rx="1.3975" ry="0.2168" fill="#B2DF8A"/>
<ellipse transform="translate(531.56 1216.54) scale(31.2 21.55) rotate(-45)" rx="1.3910" ry="0.2550" fill="#1F78B4"/>
<ellipse transform="translate(601.73 1216.54) scale(31.2 21.55) rotate(-45)" rx="1.3975" ry="0.2168" fill="#B2DF8A"/>
<ellipse transform="translate(671.9 1216.54) scale(31.2 21.55) rotate(-45)" rx="1.4053" ry="0.1581" fill="#33A02C"/>
<ellipse transform="translate(742.07 1216.54) scale(31.2 21.55) rotate(-45)" rx="1.3910" ry="0.2550" fill="#1F78B4"/>
<ellipse transform="translate(812.25 1216.54) scale(31.2 21.55) rotate(-45)" rx="1.3910" ry="0.2550" fill="#1F78B4"/>
<ellipse transform="translate(882.41 1216.54) scale(31.2 21.55) rotate(-45)" rx="1.3910" ry="0.2550" fill="#1F78B4"/>
<ellipse transform="translate(250.89 1265.3) scale(31.2 21.55) rotate(-45)" rx="1.3820" ry="0.3000" fill="#A6CEE3"/>
<ellipse transform="translate(321.06 1265.3) scale(31.2 21.55) rotate(-45)" rx="1.2923" ry="0.5745" fill="#A6CEE3"/>
<ellipse transform="translate(391.23 1265.3) scale(31.2 21.55) rotate(-45)" rx="1.3528" ry="0.4123" fill="#CAB2D6"/>
<ellipse transform="translate(461.4 1265.3) scale(31.2 21.55) rotate(-45)" rx="1.3153" ry="0.5196" fill="#33A02C"/>
<ellipse transform="translate(531.56 1265.3) scale(31.2 21.55) rotate(-45)" rx="1.3229" ry="0.5000" fill="#FB9A99"/>
<ellipse transform="translate(601.73 1265.3) scale(31.2 21.55) rotate(-45)" rx="1.3153" ry="0.5196" fill="#33A02C"/>
<ellipse transform="translate(671.9 1265.3) scale(31.2 21.55) rotate(-45)" rx="1.3620" ry="0.3808" fill="#6A3D9A"/>
<ellipse transform="translate(742.07 1265.3) scale(31.2 21.55) rotate(-45)" rx="1.3000" ry="0.5568" fill="#1F78B4"/>
<ellipse transform="translate(812.25 1265.3) scale(31.2 21.55) rotate(-45)" rx="1.3229" ry="0.5000" fill="#FB9A99"/>
<ellipse transform="translate(882.41 1265.3) scale(31.2 21.55) rotate(-45)" rx="1.3229" ry="0.5000" fill="#FB9A99"/>
<ellipse transform="translate(952.58 1265.3) scale(31.2 21.55) rotate(-45)" rx="1.3620" ry="0.3808" fill="#6A3D9A"/>
</g>
<text class="s" x="225.88 238.88 251.88 264.88" y="734.19">****</text>
<text class="s" x="238.88 251.88" y="783.03">**</text>
<text class="s" x="296.05 309.05 322.05 335.05" y="783.03">****</text>
<text class="s" x="232.38 245.38 258.38" y="831.87">***</text>
<text class="s" x="296.05 309.05 322.05 335.05" y="831.87">****</text>
<text class="s" x="366.22 379.22 392.22 405.22" y="831.87">****</text>
<text class="s" x="238.88 251.88" y="880.72">**</text>
<text class="s" x="309.05 322.05" y="880.72">**</text>
<text class="s" x="366.22 379.22 392.22 405.22" y="880.72">****</text>
<text class="s" x="436.39 449.39 462.39 475.39" y="880.72">****</text>
<text class="s" x="238.88 251.88" y="929.56">**</text>
<text class="s" x="309.05 322.05" y="929.56">**</text>
<text class="s" x="366.22 379.22 392.22 405.22" y="929.56">****</text>
<text class="s" x="436.39 449.39 462.39 475.39" y="929.56">****</text>
<text class="s" x="506.56 519.56 532.56 545.56" y="929.56">****</text>
<text class="s" x="238.88 251.88" y="978.4">**</text>
<text class="s" x="309.05 322.05" y="978.4">**</text>
<text class="s" x="366.22 379.22 392.22 405.22" y="978.4">****</text>
<text class="s" x="436.39 449.39 462.39 475.39" y="978.4">****</text>
<text class="s" x="506.56 519.56 532.56 545.56" y="978.4">****</text>
<text class="s" x="576.73 589.73 602.73 615.73" y="978.4">****</text>
<text class="s" x="225.88 238.88 251.88 264.88" y="1027.4">****</text>
<text class="s" x="309.05 322.05" y="1027.4">**</text>
<text class="s" x="366.22 379.22 392.22 405.22" y="1027.4">****</text>
<text class="s" x="436.39 449.39 462.39 475.39" y="1027.4">****</text>
<text class="s" x="506.56 519.56 532.56 545.56" y="1027.4">****</text>
<text class="s" x="576.73 589.73 602.73 615.73" y="1027.4">****</text>
<text class="s" x="646.9 659.9 672.9 685.9" y="1027.4">****</text>
<text class="s" x="238.88 251.88" y="1076.36">**</text>
<text class="s" x="302.55 315.55 328.55" y="1076.36">***</text>
<text class="s" x="372.72 385.72 398.72" y="1076.36">***</text>
<text class="s" x="436.39 449.39 462.39 475.39" y="1076.36">****</text>
<text class="s" x="506.56 519.56 532.56 545.56" y="1076.36">****</text>
<text class="s" x="576.73 589.73 602.73 615.73" y="1076.36">****</text>
<text class="s" x="646.9 659.9 672.9 685.9" y="1076.36">****</text>
<text class="s" x="717.07 730.07 743.07 756.07" y="1076.36">****</text>
<text class="s" x="238.88 251.88" y="1125.32">**</text>
<text class="s" x="302.55 315.55 328.55" y="1125.32">***</text>
<text class="s" x="366.22 379.22 392.22 405.22" y="1125.32">****</text>
<text class="s" x="436.39 449.39 462.39 475.39" y="1125.32">****</text>
<text class="s" x="506.56 519.56 532.56 545.56" y="1125.32">****</text>
<text class="s" x="576.73 589.73 602.73 615.73" y="1125.32">****</text>
<text class="s" x="646.9 659.9 672.9 685.9" y="1125.32">****</text>
<text class="s" x="717.07 730.07 743.07 756.07" y="1125.32">****</text>
<text class="s" x="787.24 800.24 813.24 826.24" y="1125.32">****</text>
<text class="s" x="238.88 251.88" y="1174.28">**</text>
<text class="s" x="296.05 309.05 322.05 335.05" y="1174.28">****</text>
<text class="s" x="366.22 379.22 392.22 405.22" y="1174.28">****</text>
<text class="s" x="436.39 449.39 462.39 475.39" y="1174.28">****</text>
<text class="s" x="506.56 519.56 532.56 545.56" y="1174.28">****</text>
<text class="s" x="576.73 589.73 602.73 615.73" y="1174.28">****</text>
<text class="s" x="646.9 659.9 672.9 685.9" y="1174.28">****</text>
<text class="s" x="717.07 730.07 743.07 756.07" y="1174.28">****</text>
<text class="s" x="787.24 800.24 813.24 826.24" y="1174.28">****</text>
<text class="s" x="857.41 870.41 883.41 896.41" y="1174.28">****</text>
<text class="s" x="232.38 245.38 258.38" y="1223.24">***</text>
<text class="s" x="309.05 322.05" y="1223.24">**</text>
<text class="s" x="366.22 379.22 392.22 405.22" y="1223.24">****</text>
<text class="s" x="436.39 449.39 462.39 475.39" y="1223.24">****</text>
<text class="s" x="506.56 519.56 532.56 545.56" y="1223.24">****</text>
<text class="s" x="576.73 589.73 602.73 615.73" y="1223.24">****</text>
<text class="s" x="646.9 659.9 672.9 685.9" y="1223.24">****</text>
<text class="s" x="717.07 730.07 743.07 756.07" y="1223.24">****</text>
<text class="s" x="787.24 800.24 813.24 826.24" y="1223.24">****</text>
<text class="s" x="857.41 870.41 883.41 896.41" y="1223.24">****</text>
<text class="s" x="927.58 940.58 953.58 966.58" y="1223.24">****</text>
<text class="s" x="225.88 238.88 251.88 264.88" y="1272.2">****</text>
<text class="s" x="315.55" y="1272.2">*</text>
<text class="s" x="379.22 392.22" y="1272.2">**</text>
<text class="s" x="455.89" y="1272.2">*</text>
<text class="s" x="519.56 532.56" y="1272.2">**</text>
<text class="s" x="596.23" y="1272.2">*</text>
<text class="s" x="653.4 666.4 679.4" y="1272.2">***</text>
<text class="s" x="736.57" y="1272.2">*</text>
<text class="s" x="800.24 813.24" y="1272.2">**</text>
<text class="s" x="870.41 883.41" y="1272.2">**</text>
<text class="s" x="940.58 953.58" y="1272.2">**</text>
<text class="s" x="997.75 1010.75 1023.75 1036.75" y="1272.2">****</text>
<line x1="220.49" y1="748.16" x2="280.69" y2="706.56" stroke="#1A9612" stroke-width="1.35"/>
<line x1="290.65" y1="797.3" x2="350.86" y2="755.7" stroke="#1A9612" stroke-width="1.35"/>
<line x1="360.82" y1="846.27" x2="421.03" y2="804.68" stroke="#1A9612" stroke-width="1.35"/>
<line x1="431" y1="895.25" x2="491.2" y2="853.65" stroke="#1A9612" stroke-width="1.35"/>
<line x1="501.16" y1="944.22" x2="561.37" y2="902.62" stroke="#1A9612" stroke-width="1.35"/>
<line x1="571.33" y1="993.2" x2="631.53" y2="951.6" stroke="#1A9612" stroke-width="1.35"/>
<line x1="641.5" y1="1042.3" x2="701.71" y2="1000.7" stroke="#1A9612" stroke-width="1.35"/>
<line x1="711.67" y1="1091.06" x2="771.88" y2="1049.46" stroke="#1A9612" stroke-width="1.35"/>
<line x1="781.85" y1="1139.82" x2="842.05" y2="1098.22" stroke="#1A9612" stroke-width="1.35"/>
<line x1="852.01" y1="1188.58" x2="912.22" y2="1146.98" stroke="#1A9612" stroke-width="1.35"/>
<line x1="922.18" y1="1237.34" x2="982.38" y2="1195.74" stroke="#1A9612" stroke-width="1.35"/>
<line x1="992.36" y1="1286.1" x2="1052.56" y2="1244.5" stroke="#1A9612" stroke-width="1.35"/>
<g class="lab">
<text transform="translate(196.7 737.1) scale(0.97 1)" font-size="31.2" text-anchor="end">CFU</text>
<text transform="translate(250.99 689.1) scale(0.97 1)" font-size="31.2" text-anchor="middle">CFU</text>
<text transform="translate(196.7 786) scale(0.97 1)" font-size="31.2" text-anchor="end">OM</text>
<text transform="translate(321.15 737.99) scale(0.97 1)" font-size="31.2" text-anchor="middle">OM</text>
<text transform="translate(196.7 834.9) scale(0.97 1)" font-size="31.2" text-anchor="end">TN</text>
<text transform="translate(391.32 786.87) scale(0.97 1)" font-size="31.2" text-anchor="middle">TN</text>
<text transform="translate(196.7 883.4) scale(0.97 1)" font-size="31.2" text-anchor="end">Ammonium-N</text>
<text transform="translate(461.5 835.76) scale(0.97 1)" font-size="31.2" text-anchor="middle">Ammonium-N</text>
<text transform="translate(196.7 931.9) scale(0.97 1)" font-size="31.2" text-anchor="end">Nitrate-N</text>
<text transform="translate(531.66 884.65) scale(0.97 1)" font-size="31.2" text-anchor="middle">Nitrate-N</text>
<text transform="translate(196.7 980.9) scale(0.97 1)" font-size="31.2" text-anchor="end">MBN</text>
<text transform="translate(601.83 933.53) scale(0.97 1)" font-size="31.2" text-anchor="middle">MBN</text>
<text transform="translate(196.7 1029.87) scale(0.97 1)" font-size="31.2" text-anchor="end">MBC</text>
<text transform="translate(672 982.42) scale(0.97 1)" font-size="31.2" text-anchor="middle">MBC</text>
<text transform="translate(196.7 1078.83) scale(0.97 1)" font-size="31.2" text-anchor="end">K</text>
<text transform="translate(742.17 1031.3) scale(0.97 1)" font-size="31.2" text-anchor="middle">K</text>
<text transform="translate(196.7 1127.8) scale(0.97 1)" font-size="31.2" text-anchor="end">P</text>
<text transform="translate(812.35 1080.19) scale(0.97 1)" font-size="31.2" text-anchor="middle">P</text>
<text transform="translate(196.7 1176.75) scale(0.97 1)" font-size="31.2" text-anchor="end">OC</text>
<text transform="translate(882.51 1129.08) scale(0.97 1)" font-size="31.2" text-anchor="middle">OC</text>
<text transform="translate(196.7 1225.7) scale(0.97 1)" font-size="31.2" text-anchor="end">Fe</text>
<text transform="translate(952.68 1177.96) scale(0.97 1)" font-size="31.2" text-anchor="middle">Fe</text>
<text transform="translate(196.7 1274.65) scale(0.97 1)" font-size="31.2" text-anchor="end">Zn</text>
<text transform="translate(1022.86 1226.85) scale(0.97 1)" font-size="31.2" text-anchor="middle">Zn</text>
</g>
<path fill="#000" fill-rule="evenodd" d="M214 702 H1059 V1292 H214 Z M217 705 V1288 H1056 V705 Z"/>
<text transform="translate(1053.5 743.05) scale(1.02 1)" font-size="37.6" text-anchor="end">(b)</text>
</g>
<g>
<rect x="1068" y="700" width="65" height="45" fill="#000"/>
<rect x="1071" y="702" width="60" height="41" fill="#FDBF6F"/>
<text transform="translate(1152.85 731.8) scale(0.95 1)" font-size="28.4">0.8</text>
<rect x="1068" y="760" width="65" height="45" fill="#000"/>
<rect x="1071" y="762" width="60" height="41" fill="#CAB2D6"/>
<text transform="translate(1152.85 791.8) scale(0.95 1)" font-size="28.4">0.6</text>
<rect x="1068" y="820" width="65" height="45" fill="#000"/>
<rect x="1071" y="822" width="60" height="41" fill="#FFFF99"/>
<text transform="translate(1152.85 851.8) scale(0.95 1)" font-size="28.4">0.4</text>
<rect x="1068" y="880" width="65" height="45" fill="#000"/>
<rect x="1071" y="882" width="60" height="41" fill="#A6CEE3"/>
<text transform="translate(1152.85 911.8) scale(0.95 1)" font-size="28.4">0.2</text>
<rect x="1068" y="940" width="65" height="45" fill="#000"/>
<rect x="1071" y="942" width="60" height="41" fill="#B2DF8A"/>
<text transform="translate(1152.85 971.8) scale(0.95 1)" font-size="28.4">0</text>
<rect x="1068" y="1000" width="65" height="45" fill="#000"/>
<rect x="1071" y="1002" width="60" height="41" fill="#FB9A99"/>
<text transform="translate(1152.85 1031.8) scale(0.95 1)" font-size="28.4">-0.2</text>
<rect x="1068" y="1060" width="65" height="45" fill="#000"/>
<rect x="1071" y="1062" width="60" height="41" fill="#FDBF6F"/>
<text transform="translate(1152.85 1091.8) scale(0.95 1)" font-size="28.4">-0.4</text>
<rect x="1068" y="1120" width="65" height="45" fill="#000"/>
<rect x="1071" y="1122" width="60" height="41" fill="#CAB2D6"/>
<text transform="translate(1152.85 1151.8) scale(0.95 1)" font-size="28.4">-0.6</text>
<rect x="1068" y="1180" width="65" height="45" fill="#000"/>
<rect x="1071" y="1182" width="60" height="41" fill="#FFFF99"/>
<text transform="translate(1152.85 1211.8) scale(0.95 1)" font-size="28.4">-0.8</text>
<rect x="1068" y="1240" width="65" height="45" fill="#000"/>
<rect x="1071" y="1242" width="60" height="41" fill="#A6CEE3"/>
<text transform="translate(1152.85 1271.8) scale(0.95 1)" font-size="28.4">-1</text>
</g>
<g>
<text transform="translate(235.4 1327.1) scale(1.01 1)" font-size="33.2">* p&lt;=0.05</text>
<text transform="translate(399.9 1327.1) scale(1.01 1)" font-size="33.2">** p&lt;=0.01</text>
<text transform="translate(576.6 1327.1) scale(1.01 1)" font-size="33.2">*** p&lt;=0.001</text>
<text transform="translate(783.9 1327.1) scale(1.01 1)" font-size="33.2">**** p&lt;=0.0001</text>
</g>
</svg>
</body>
</html>
